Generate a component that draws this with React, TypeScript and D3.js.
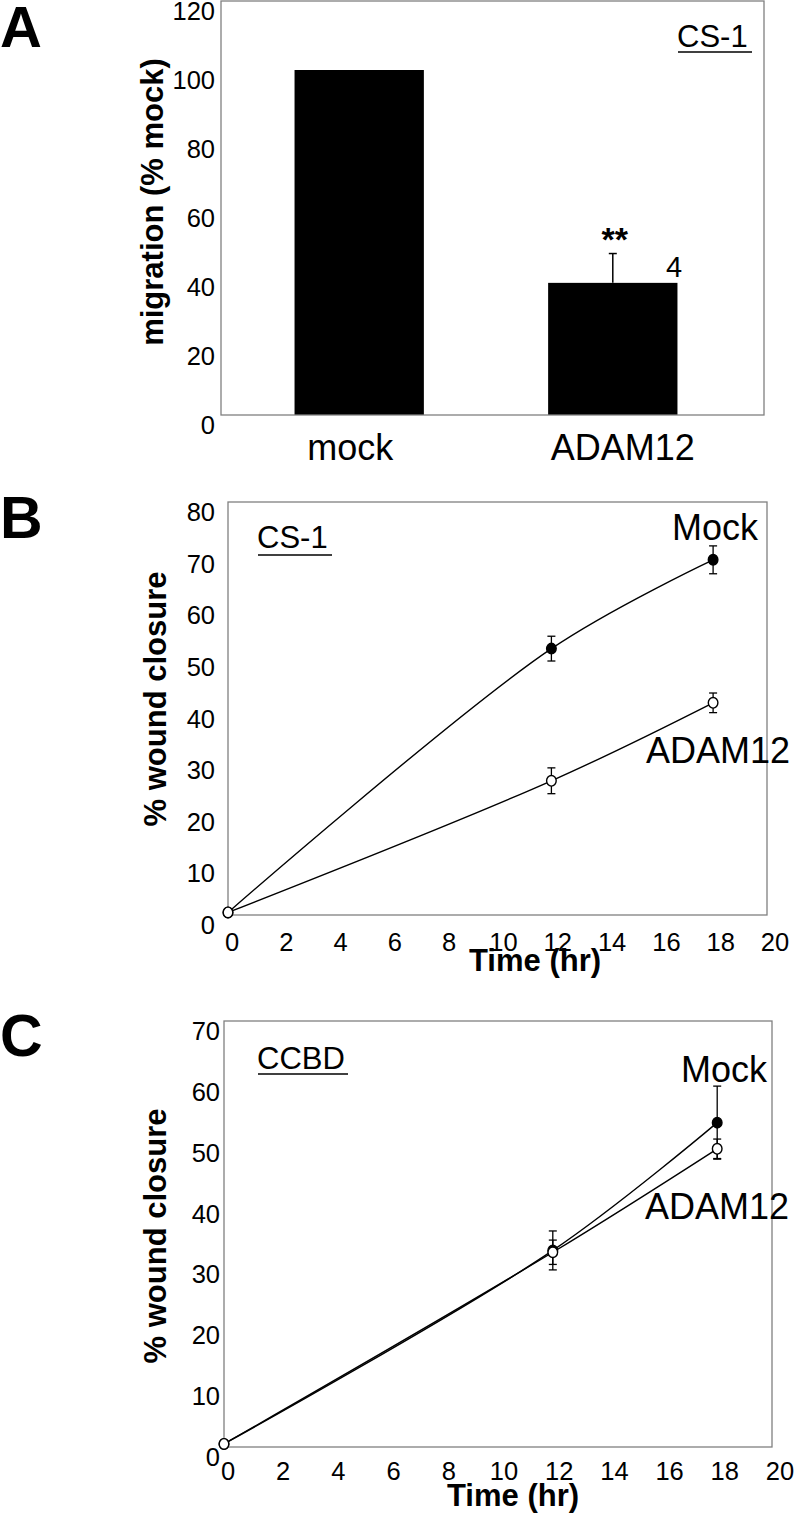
import React from "react";
import * as d3 from "d3";

// ---------- DATA ----------
const barCategories = ["mock", "ADAM12"];
const barValues = [100, 38.3];
const barErrors = [0, 8.5];
const barYTicks = [0, 20, 40, 60, 80, 100, 120];

const timeHours = [0, 12, 18];
const timeTicks = [0, 2, 4, 6, 8, 10, 12, 14, 16, 18, 20];

const csMock = [0.5, 51.6, 68.8];
const csMockErr = [0, 2.4, 2.7];
const csAdam = [0.5, 26.0, 41.1];
const csAdamErr = [0, 2.5, 1.9];
const csYTicks = [0, 10, 20, 30, 40, 50, 60, 70, 80];

const ccMock = [0.5, 32.3, 53.3];
const ccMockErr = [0, 3.2, 6.0];
const ccAdam = [0.5, 32.0, 49.0];
const ccAdamErr = [0, 2.0, 1.6];
const ccYTicks = [0, 10, 20, 30, 40, 50, 60, 70];

const FONT = "'Liberation Sans', Arial, Helvetica, sans-serif";
const BOX = "#808080";

function BarPanel() {
  const x0 = 221, x1 = 764, y0 = 1, y1 = 415;
  const y = d3.scaleLinear().domain([0, 120]).range([y1, y0]);
  const x = d3
    .scaleBand<string>()
    .domain(barCategories)
    .range([x0, x1 - 13])
    .paddingInner(0.49)
    .paddingOuter(0.29);
  const bw = x.bandwidth();
  const labelShift = [-9, 10];
  return (
    <g>
      <text x={0} y={47} fontFamily={FONT} fontWeight="bold" fontSize={58}>A</text>
      {barCategories.map((c, i) => (
        <rect key={c} x={x(c)!} y={y(barValues[i])} width={bw} height={y1 - y(barValues[i])} fill="#000" />
      ))}
      {barCategories.map((c, i) =>
        barErrors[i] > 0 ? (
          <g key={"e" + c} stroke="#000" strokeWidth={1.5}>
            <line x1={x(c)! + bw / 2} x2={x(c)! + bw / 2} y1={y(barValues[i])} y2={y(barValues[i] + barErrors[i])} />
            <line x1={x(c)! + bw / 2 - 4} x2={x(c)! + bw / 2 + 4} y1={y(barValues[i] + barErrors[i])} y2={y(barValues[i] + barErrors[i])} />
          </g>
        ) : null
      )}
      <rect x={x0} y={y0} width={x1 - x0} height={y1 - y0} fill="none" stroke={BOX} strokeWidth={1.3} />
      {barYTicks.map((t) => (
        <text key={t} x={215} y={y(t) + 19} textAnchor="end" fontFamily={FONT} fontSize={25.5}>{t}</text>
      ))}
      {barCategories.map((c, i) => (
        <text key={"l" + c} x={x(c)! + bw / 2 + labelShift[i]} y={460} textAnchor="middle" fontFamily={FONT} fontSize={36}>{c}</text>
      ))}
      <text transform={`translate(163,202) rotate(-90)`} textAnchor="middle" fontFamily={FONT} fontWeight="bold" fontSize={31}>migration (% mock)</text>
      <text x={x("ADAM12")! + bw / 2 + 2} y={251} textAnchor="middle" fontFamily={FONT} fontWeight="bold" fontSize={34}>**</text>
      <text x={674} y={277} textAnchor="middle" fontFamily={FONT} fontSize={29}>4</text>
      <text x={677} y={47} fontFamily={FONT} fontSize={31}>CS-1</text>
      <line x1={678} x2={752} y1={52} y2={52} stroke="#000" strokeWidth={1.5} />
    </g>
  );
}

type Series = { values: number[]; errs: number[]; filled: boolean };

function LinePanel(props: {
  letter: string; letterY: number; x0: number; x1: number; y0: number; y1: number;
  yMax: number; yTicks: number[]; yLabelRight: number; series: Series[];
  tag: string; tagX: number; tagY: number; tagUnderline: number; tagW: number;
  mockX: number; mockY: number; adamX: number; adamY: number;
  xLabelY: number; titleX: number; titleY: number; yTitleX: number; yTitleY: number;
}) {
  const p = props;
  const x = d3.scaleLinear().domain([0, 20]).range([p.x0, p.x1]);
  const xl = d3.scaleLinear().domain([0, 20]).range([p.x0 + 4, p.x1 + 8]);
  const y = d3.scaleLinear().domain([0, p.yMax]).range([p.y1, p.y0]);
  const line = d3
    .line<number>()
    .x((_, i) => x(timeHours[i]))
    .y((d) => y(d))
    .curve(d3.curveCatmullRom.alpha(0.5));
  return (
    <g>
      <text x={0} y={p.letterY} fontFamily={FONT} fontWeight="bold" fontSize={59}>{p.letter}</text>
      <rect x={p.x0} y={p.y0} width={p.x1 - p.x0} height={p.y1 - p.y0} fill="none" stroke={BOX} strokeWidth={1.3} />
      {p.series.map((s, k) => (
        <path key={"l" + k} d={line(s.values)!} fill="none" stroke="#000" strokeWidth={1.4} />
      ))}
      {p.series.map((s, k) =>
        s.values.map((v, i) =>
          s.errs[i] > 0 ? (
            <g key={"e" + k + i} stroke="#000" strokeWidth={1.3}>
              <line x1={x(timeHours[i])} x2={x(timeHours[i])} y1={y(v - s.errs[i])} y2={y(v + s.errs[i])} />
              <line x1={x(timeHours[i]) - 4} x2={x(timeHours[i]) + 4} y1={y(v - s.errs[i])} y2={y(v - s.errs[i])} />
              <line x1={x(timeHours[i]) - 4} x2={x(timeHours[i]) + 4} y1={y(v + s.errs[i])} y2={y(v + s.errs[i])} />
            </g>
          ) : null
        )
      )}
      {p.series.map((s, k) =>
        s.values.map((v, i) => (
          <ellipse key={"m" + k + i} cx={x(timeHours[i])} cy={y(v)} rx={4.8} ry={5.3}
            fill={s.filled && i > 0 ? "#000" : "#fff"} stroke="#000" strokeWidth={1.4} />
        ))
      )}
      {p.yTicks.map((t) => (
        <text key={t} x={p.yLabelRight} y={y(t) + 19} textAnchor="end" fontFamily={FONT} fontSize={25.5}>{t}</text>
      ))}
      {timeTicks.map((t) => (
        <text key={t} x={xl(t)} y={p.xLabelY} textAnchor="middle" fontFamily={FONT} fontSize={25.5}>{t}</text>
      ))}
      <text x={p.titleX} y={p.titleY} textAnchor="middle" fontFamily={FONT} fontWeight="bold" fontSize={31}>Time (hr)</text>
      <text transform={`translate(${p.yTitleX},${p.yTitleY}) rotate(-90)`} textAnchor="middle" fontFamily={FONT} fontWeight="bold" fontSize={31}>% wound closure</text>
      <text x={p.tagX} y={p.tagY} fontFamily={FONT} fontSize={31}>{p.tag}</text>
      <line x1={p.tagX + 1} x2={p.tagX + 1 + p.tagW} y1={p.tagUnderline} y2={p.tagUnderline} stroke="#000" strokeWidth={1.5} />
      <text x={p.mockX} y={p.mockY} fontFamily={FONT} fontSize={36}>Mock</text>
      <text x={p.adamX} y={p.adamY} fontFamily={FONT} fontSize={36}>ADAM12</text>
    </g>
  );
}

export default function App() {
  return (
    <svg width={795} height={1521} viewBox="0 0 795 1521" style={{ position: "absolute", left: 0, top: 0, background: "#fff" }}>
      <rect x={0} y={0} width={795} height={1521} fill="#fff" />
      <BarPanel />
      <LinePanel
        letter="B" letterY={538} x0={228} x1={767} y0={502} y1={915}
        yMax={80} yTicks={csYTicks} yLabelRight={215}
        series={[
          { values: csMock, errs: csMockErr, filled: true },
          { values: csAdam, errs: csAdamErr, filled: false },
        ]}
        tag="CS-1" tagX={257} tagY={548} tagUnderline={555} tagW={74}
        mockX={672} mockY={540} adamX={646} adamY={763}
        xLabelY={951} titleX={535} titleY={971} yTitleX={166} yTitleY={699}
      />
      <LinePanel
        letter="C" letterY={1056} x0={224} x1={772} y0={1021} y1={1447}
        yMax={70} yTicks={ccYTicks} yLabelRight={220}
        series={[
          { values: ccMock, errs: ccMockErr, filled: true },
          { values: ccAdam, errs: ccAdamErr, filled: false },
        ]}
        tag="CCBD" tagX={257} tagY={1069} tagUnderline={1074} tagW={90}
        mockX={681} mockY={1082} adamX={645} adamY={1219}
        xLabelY={1480} titleX={513} titleY={1506} yTitleX={166} yTitleY={1236}
      />
    </svg>
  );
}
